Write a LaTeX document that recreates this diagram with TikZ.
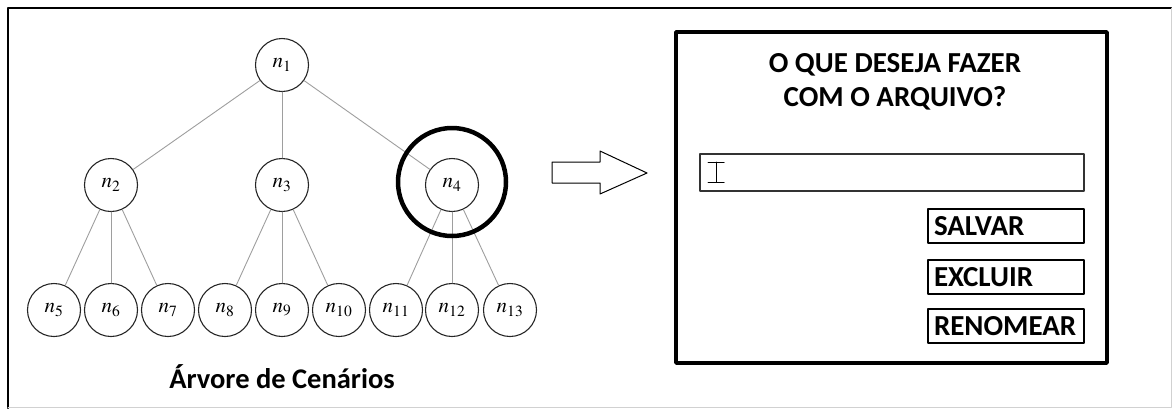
\documentclass[tikz,border=0pt]{standalone}
\usepackage{mathptmx}
\usepackage[no-math]{fontspec}
\setmainfont{Carlito}

\begin{document}
\begin{tikzpicture}[x=1pt, y=-1pt, line cap=round, line join=round,
    noarv/.style={circle, draw=black!85, line width=1.1pt, minimum size=53pt, inner sep=0pt,
      font=\fontsize{21}{21}\selectfont},
    aresta/.style={draw=black!38, line width=0.9pt},
    botao/.style={draw, line width=1.3pt, minimum width=156pt, minimum height=34pt,
      inner xsep=6pt, inner ysep=0pt, text width=144pt, align=left,
      font=\fontsize{29}{29}\selectfont\bfseries}]
\useasboundingbox (0,0) rectangle (1172,408);
% moldura
\draw[line width=2pt] (8,408) -- (8,8) -- (1172,8);
\draw[black!18, line width=1pt] (1171,8) -- (1171,407) -- (8,407);
% arvore: nos
\node[noarv] (n1)  at (282,65)  {$n_{1}$};
\node[noarv] (n2)  at (111,185) {$n_{2}$};
\node[noarv] (n3)  at (282,185) {$n_{3}$};
\node[noarv] (n4)  at (452,185) {$n_{4}$};
\node[noarv] (n5)  at (54,310)  {$n_{5}$};
\node[noarv] (n6)  at (111,310) {$n_{6}$};
\node[noarv] (n7)  at (168,310) {$n_{7}$};
\node[noarv] (n8)  at (225,310) {$n_{8}$};
\node[noarv] (n9)  at (282,310) {$n_{9}$};
\node[noarv] (n10) at (339,310) {$n_{10}$};
\node[noarv] (n11) at (396,310) {$n_{11}$};
\node[noarv] (n12) at (452,310) {$n_{12}$};
\node[noarv] (n13) at (510,310) {$n_{13}$};
% arvore: arestas
\draw[aresta] (n1) -- (n2);
\draw[aresta] (n1) -- (n3);
\draw[aresta] (n1) -- (n4);
\draw[aresta] (n2) -- (n5);
\draw[aresta] (n2) -- (n6);
\draw[aresta] (n2) -- (n7);
\draw[aresta] (n3) -- (n8);
\draw[aresta] (n3) -- (n9);
\draw[aresta] (n3) -- (n10);
\draw[aresta] (n4) -- (n11);
\draw[aresta] (n4) -- (n12);
\draw[aresta] (n4) -- (n13);
% destaque do no escolhido
\draw[line width=4.5pt] (452,182) circle[radius=54];
\node[font=\fontsize{28.5}{28.5}\selectfont\bfseries] (titarv) at (282,377) {Árvore de Cenários};
% seta
\draw[line width=1pt] (552,162) -- (600,162) -- (600,151) -- (647,173)
  -- (600,194) -- (600,183) -- (552,183) -- cycle;
% janela
\draw[line width=3.5pt] (676,32) rectangle (1107,363);
\node[font=\fontsize{29}{34}\selectfont\bfseries, align=center] (pergunta) at (895,82)
  {O QUE DESEJA FAZER\\COM O ARQUIVO?};
\draw[draw=black!80, line width=1.3pt] (700,154) rectangle (1084,191);
% cursor
\draw[line width=1pt] (708,162) -- (724,162) (716,162) -- (716,182) (708,182) -- (724,182);
% botoes
\node[botao] (salvar)   at (1006,226) {SALVAR};
\node[botao] (excluir)  at (1006,277) {EXCLUIR};
\node[botao] (renomear) at (1006,326) {RENOMEAR};
\end{tikzpicture}
\end{document}
